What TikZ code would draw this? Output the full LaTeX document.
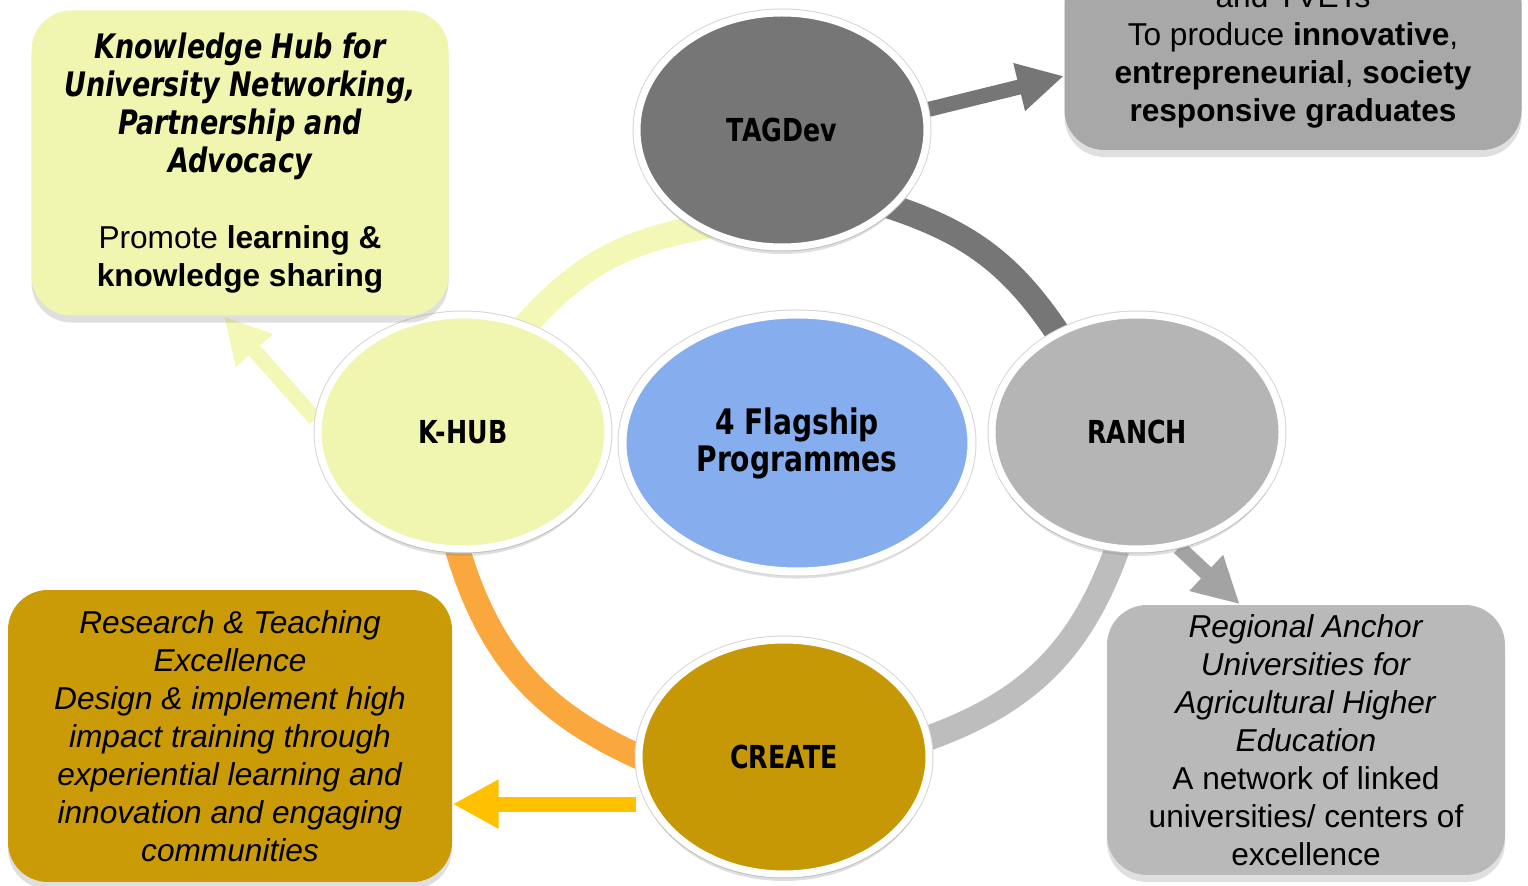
\documentclass[tikz,border=0pt]{standalone}
\usepackage{fontspec}
\setmainfont{Liberation Sans}
\newfontfamily\labelfont[FakeStretch=0.8]{DejaVu Sans}
\usetikzlibrary{shapes.geometric,arrows.meta,shadows,backgrounds}

\begin{document}
\begin{tikzpicture}[x=0.1mm,y=-0.1mm]
  % Local definitions
  \def\hd#1{{\labelfont\bfseries\itshape\fontsize{9.6}{10.8}\selectfont #1}}

  % Colors
  \definecolor{hubcolor}{HTML}{F0F6B0}
  \definecolor{tagcolor}{HTML}{767676}
  \definecolor{ranchcolor}{HTML}{B5B5B5}
  \definecolor{createcolor}{HTML}{C79805}
  \definecolor{flagcolor}{HTML}{86AEEE}
  \definecolor{tboxcolor}{HTML}{A8A8A8}
  \definecolor{rboxcolor}{HTML}{B9B9B9}
  \definecolor{cboxcolor}{HTML}{CA9B07}
  \definecolor{hubring}{HTML}{F3F8B6}
  \definecolor{greyring}{HTML}{BDBDBD}
  \definecolor{orangering}{HTML}{FAA83E}
  \definecolor{goldarrow}{HTML}{FFC000}

  % Styles
  \tikzstyle{programme}=[ellipse,draw=white,line width=0.7mm,inner sep=0pt,
    minimum width=29mm,minimum height=23.4mm,
    preaction={draw=black!16,line width=0.9mm},
    font=\labelfont\bfseries\fontsize{9}{10.5}\selectfont,
    drop shadow={shadow xshift=0pt,shadow yshift=-2pt,opacity=0.25}]
  \tikzstyle{info box}=[rounded corners=4mm,inner sep=0pt,align=center,
    font=\fontsize{9}{10.8}\selectfont,
    drop shadow={shadow xshift=0pt,shadow yshift=-2pt,opacity=0.25}]
  \tikzstyle{ring}=[line width=2.5mm,shorten <=-5mm,shorten >=-5mm]
  \tikzstyle{out arrow}=[line width=1.5mm,-{Triangle[width=4.6mm,length=4.6mm]}]

  \useasboundingbox (0,0) rectangle (1528,886);
  \clip (0,0) rectangle (1528,886);

  % Programmes
  \node[programme,fill=hubcolor] (khub) at (463,432) {K-HUB};
  \node[programme,fill=tagcolor] (tagdev) at (782,130) {TAGDev};
  \node[programme,fill=ranchcolor] (ranch) at (1137,432) {RANCH};
  \node[programme,fill=createcolor] (create) at (784,757) {CREATE};
  \node[programme,fill=flagcolor,line width=0.8mm,minimum width=34.9mm,
    minimum height=25.7mm,align=center,preaction={draw=black!16,line width=1mm},
    font=\labelfont\bfseries\fontsize{10}{10.5}\selectfont] (flagship) at (797,443)
    {4 Flagship\\Programmes};

  % Boxes
  \node[info box,fill=hubcolor,minimum width=41.7mm,minimum height=30.5mm] (kbox) at (240,163)
    {\hd{Knowledge Hub for}\\\hd{University Networking,}\\\hd{Partnership and}\\\hd{Advocacy}\\[10.8pt]
     Promote \textbf{learning \&}\\\textbf{knowledge sharing}};
  \node[info box,fill=tboxcolor,minimum width=45.7mm,minimum height=18.8mm] (tbox) at (1293,56)
    {and TVETs\\To produce \textbf{innovative},\\\textbf{entrepreneurial}, \textbf{society}\\
     \textbf{responsive graduates}};
  \node[info box,fill=rboxcolor,minimum width=39.8mm,minimum height=27mm] (rbox) at (1306,740)
    {\textit{Regional Anchor}\\\textit{Universities for}\\\textit{Agricultural Higher}\\
     \textit{Education}\\A network of linked\\universities/ centers of\\excellence};
  \node[info box,fill=cboxcolor,minimum width=44.4mm,minimum height=29.2mm] (cbox) at (230,736)
    {\textit{Research \& Teaching}\\\textit{Excellence}\\\textit{Design \& implement high}\\
     \textit{impact training through}\\\textit{experiential learning and}\\
     \textit{innovation and engaging}\\\textit{communities}};

  \begin{scope}[on background layer]
    % Cycle
    \draw[ring,hubring] (khub.60) to[bend left=22] (tagdev.228);
    \draw[ring,tagcolor] (tagdev.-34) to[bend left=22] (ranch.128);
    \draw[ring,greyring] (ranch.-99) to[bend left=29] (create.7);
    \draw[ring,orangering] (create.180) to[bend left=28] (khub.-93);

    % Outputs
    \draw[out arrow,tagcolor] (tagdev.8) -- (tbox.185);
    \draw[out arrow,ranchcolor!90!black] (ranch.-70) -- (rbox.116);
    \draw[out arrow,hubring] (khub.175) -- (kbox.-96);
    \draw[out arrow,goldarrow] (cbox.-17 -| create.west) -- (cbox.-17);
  \end{scope}
\end{tikzpicture}
\end{document}
